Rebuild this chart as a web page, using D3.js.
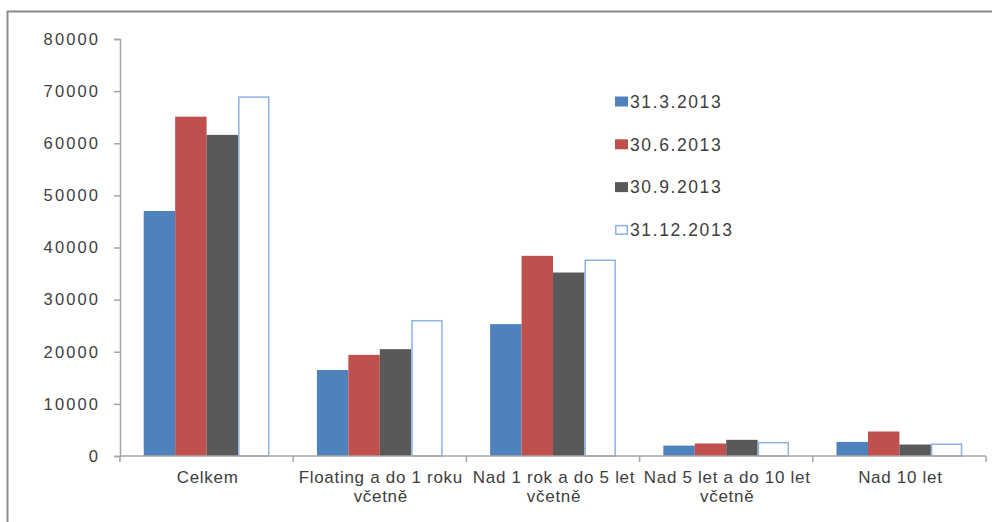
<!DOCTYPE html>
<html>
<head>
<meta charset="utf-8">
<script src="https://cdn.jsdelivr.net/npm/d3@7"></script>
<style>
  html, body { margin: 0; padding: 0; background: #fff; }
  svg { display: block; font-family: "Liberation Sans", Arial, sans-serif; }
</style>
</head>
<body>
<svg id="chart" width="992" height="522"></svg>
<script>
// Categories (maturity buckets); "\n" marks a line break in the axis label
const categories = [
  "Celkem",
  "Floating a do 1 roku\nvčetně",
  "Nad 1 rok a do 5 let\nvčetně",
  "Nad 5 let a do 10 let\nvčetně",
  "Nad 10 let"
];
const seriesNames = ["31.3.2013", "30.6.2013", "30.9.2013", "31.12.2013"];
const q1 = [47000, 16500, 25300, 2000, 2700];
const q2 = [65100, 19400, 38400, 2400, 4700];
const q3 = [61600, 20500, 35200, 3100, 2200];
const q4 = [69000, 26100, 37700, 2700, 2400];
const yTicks = [0, 10000, 20000, 30000, 40000, 50000, 60000, 70000, 80000];

const seriesValues = [q1, q2, q3, q4];
const fills = ["#4f81bd", "#c0504d", "#595959", "#ffffff"];
const strokes = ["none", "none", "none", "#8cb2e6"];

const svg = d3.select("#chart");

// Outer frame of the chart area
svg.append("rect")
  .attr("x", 7.5).attr("y", 11.5)
  .attr("width", 1100).attr("height", 700)
  .attr("fill", "none")
  .attr("stroke", "#8a8a8a")
  .attr("stroke-width", 2);

const x0 = d3.scaleBand().domain(d3.range(categories.length)).range([120, 986]).padding(0);
const inset = x0.bandwidth() * 0.137;
const x1 = d3.scaleBand().domain(d3.range(seriesNames.length)).range([inset, x0.bandwidth() - inset]).padding(0);
const y = d3.scaleLinear().domain([0, 80000]).range([456, 39]);

// Bars, one group per category
const groups = svg.append("g").selectAll("g")
  .data(categories.map((c, i) => i))
  .join("g")
  .attr("transform", i => `translate(${x0(i)},0)`);

groups.selectAll("rect")
  .data(i => seriesValues.map((vals, s) => ({ s, v: vals[i] })))
  .join("rect")
  .attr("x", d => x1(d.s) + (d.s === 3 ? 0.75 : 0))
  .attr("y", d => y(d.v) + (d.s === 3 ? 0.75 : 0))
  .attr("width", d => x1.bandwidth() - (d.s === 3 ? 1.5 : 0))
  .attr("height", d => y(0) - y(d.v) - (d.s === 3 ? 0.75 : 0))
  .attr("fill", d => fills[d.s])
  .attr("stroke", d => strokes[d.s])
  .attr("stroke-width", 1.5);

// Y axis
const yAxis = svg.append("g")
  .attr("transform", "translate(120,0)")
  .call(d3.axisLeft(y).tickValues(yTicks).tickSize(6).tickPadding(14).tickFormat(d3.format("d")));
yAxis.select(".domain").attr("stroke", "#a6a6a6").attr("stroke-width", 1.5);
yAxis.selectAll(".tick line").attr("stroke", "#a6a6a6").attr("stroke-width", 1.5);
yAxis.selectAll(".tick text")
  .attr("fill", "#404040")
  .style("font-size", "16.5px")
  .style("letter-spacing", "2.1px")
  .attr("font-family", "Liberation Sans, Arial, sans-serif");

// X axis baseline with ticks at category boundaries
const xAxisG = svg.append("g");
xAxisG.append("line")
  .attr("x1", 120).attr("x2", 986)
  .attr("y1", y(0)).attr("y2", y(0))
  .attr("stroke", "#a6a6a6").attr("stroke-width", 1.5);
xAxisG.selectAll("line.tk")
  .data(d3.range(categories.length + 1))
  .join("line")
  .attr("class", "tk")
  .attr("x1", i => i < categories.length ? x0(i) : x0(i - 1) + x0.bandwidth())
  .attr("x2", i => i < categories.length ? x0(i) : x0(i - 1) + x0.bandwidth())
  .attr("y1", y(0)).attr("y2", y(0) + 6)
  .attr("stroke", "#a6a6a6").attr("stroke-width", 1.5);

// Category labels
const labels = xAxisG.selectAll("text")
  .data(categories)
  .join("text")
  .attr("x", (c, i) => x0(i) + x0.bandwidth() / 2 + 1)
  .attr("y", 483)
  .attr("text-anchor", "middle")
  .attr("fill", "#404040")
  .style("font-size", "17px")
  .style("letter-spacing", "0.7px");
labels.selectAll("tspan")
  .data(c => c.split("\n"))
  .join("tspan")
  .attr("x", function () { return this.parentNode.getAttribute("x"); })
  .attr("dy", (d, k) => k === 0 ? 0 : 19)
  .text(d => d);

// Legend
const legend = svg.append("g");
const legendRows = legend.selectAll("g")
  .data(seriesNames)
  .join("g")
  .attr("transform", (d, i) => `translate(615,${101.5 + i * 42.8})`);
legendRows.append("rect")
  .attr("x", (d, i) => i === 3 ? 0.75 : 0)
  .attr("y", (d, i) => i === 3 ? -4.25 : -5)
  .attr("width", (d, i) => i === 3 ? 11.5 : 13)
  .attr("height", (d, i) => i === 3 ? 8.5 : 10)
  .attr("fill", (d, i) => fills[i])
  .attr("stroke", (d, i) => strokes[i])
  .attr("stroke-width", 1.5);
legendRows.append("text")
  .attr("x", 15)
  .attr("y", 0)
  .attr("dy", "0.36em")
  .attr("fill", "#404040")
  .style("font-size", "17.5px")
  .style("letter-spacing", "1.6px")
  .text(d => d);
</script>
</body>
</html>
